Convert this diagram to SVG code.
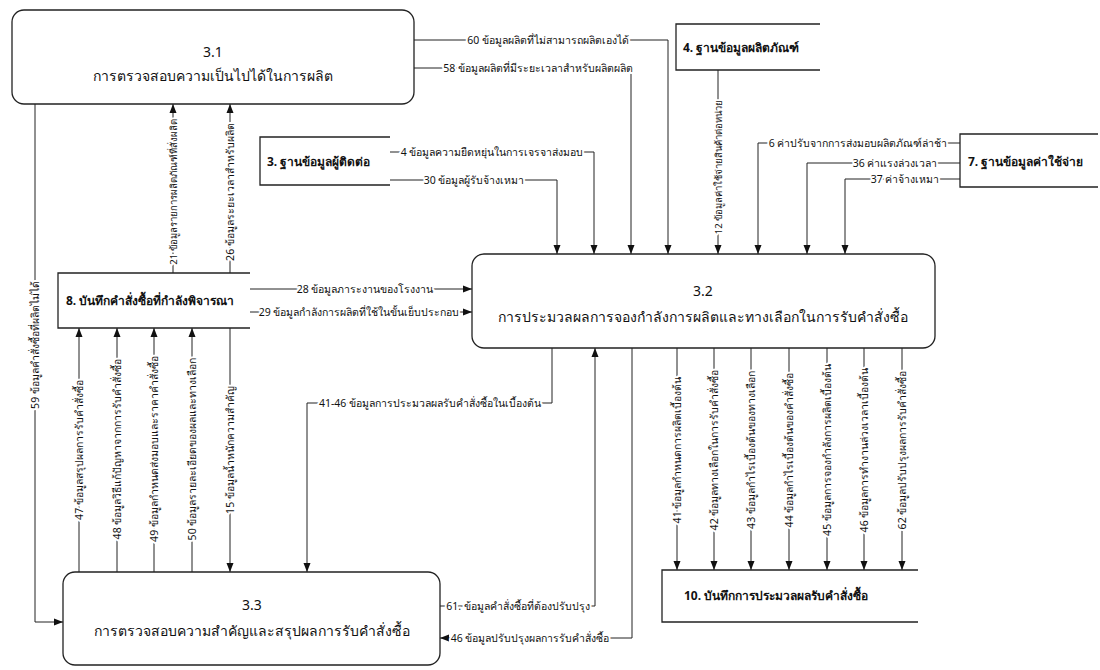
<svg xmlns="http://www.w3.org/2000/svg" width="1100" height="670" viewBox="0 0 1100 670">
<style>
text{font-family:"Noto Sans","DejaVu Sans",sans-serif;fill:#111}
.proc{fill:#fff;stroke:#222;stroke-width:1.3}
.store{fill:none;stroke:#222;stroke-width:1.3}
.pt{font-size:14px;text-anchor:middle}
.st{font-size:12px;font-weight:bold}
.fl{font-size:10.5px;text-anchor:middle;dominant-baseline:central;stroke:#fff;stroke-width:4px;paint-order:stroke;stroke-linejoin:round}
.sm{font-size:9.5px}
.ln{fill:none;stroke:#222;stroke-width:1}
</style>
<defs>
<marker id="ah" markerWidth="10" markerHeight="10" refX="9" refY="5" orient="auto" markerUnits="userSpaceOnUse">
<path d="M0,1.5 L9,5 L0,8.5 Z" fill="#111"/>
</marker>
</defs>
<rect width="1100" height="670" fill="#fff"/>
<g id="connectors">
<path class="ln" d="M35,104 V622 H63" marker-end="url(#ah)"/>
<path class="ln" d="M173,273 V104" marker-end="url(#ah)"/>
<path class="ln" d="M230,273 V104" marker-end="url(#ah)"/>
<path class="ln" d="M414,40 H668 V254" marker-end="url(#ah)"/>
<path class="ln" d="M414,68 H631 V254" marker-end="url(#ah)"/>
<path class="ln" d="M390,152 H594 V254" marker-end="url(#ah)"/>
<path class="ln" d="M390,180 H557 V254" marker-end="url(#ah)"/>
<path class="ln" d="M718,70 V254" marker-end="url(#ah)"/>
<path class="ln" d="M960,143 H758 V254" marker-end="url(#ah)"/>
<path class="ln" d="M960,163 H807 V254" marker-end="url(#ah)"/>
<path class="ln" d="M960,179 H845 V254" marker-end="url(#ah)"/>
<path class="ln" d="M250,289 H472" marker-end="url(#ah)"/>
<path class="ln" d="M250,312 H472" marker-end="url(#ah)"/>
<path class="ln" d="M552,348 V403 H307 V572" marker-end="url(#ah)"/>
<path class="ln" d="M440,606 H595 V348" marker-end="url(#ah)"/>
<path class="ln" d="M632,348 V638 H440" marker-end="url(#ah)"/>
<path class="ln" d="M79,572 V328" marker-end="url(#ah)"/>
<path class="ln" d="M117,572 V328" marker-end="url(#ah)"/>
<path class="ln" d="M154,572 V328" marker-end="url(#ah)"/>
<path class="ln" d="M192,572 V328" marker-end="url(#ah)"/>
<path class="ln" d="M230,328 V572" marker-end="url(#ah)"/>
<path class="ln" d="M677,348 V570" marker-end="url(#ah)"/>
<path class="ln" d="M714,348 V570" marker-end="url(#ah)"/>
<path class="ln" d="M751,348 V570" marker-end="url(#ah)"/>
<path class="ln" d="M789,348 V570" marker-end="url(#ah)"/>
<path class="ln" d="M827,348 V570" marker-end="url(#ah)"/>
<path class="ln" d="M864,348 V570" marker-end="url(#ah)"/>
<path class="ln" d="M902,348 V570" marker-end="url(#ah)"/>
<text class="fl" x="548" y="40">60 ข้อมูลผลิตที่ไม่สามารถผลิตเองได้</text>
<text class="fl" x="538" y="68">58 ข้อมูลผลิตที่มีระยะเวลาสำหรับผลิตผลิต</text>
<text class="fl" x="492" y="152">4 ข้อมูลความยืดหยุ่นในการเจรจาส่งมอบ</text>
<text class="fl" x="474" y="180">30 ข้อมูลผู้รับจ้างเหมา</text>
<text class="fl" x="858" y="143">6 ค่าปรับจากการส่งมอบผลิตภัณฑ์ล่าช้า</text>
<text class="fl" x="895" y="163">36 ค่าแรงล่วงเวลา</text>
<text class="fl" x="905" y="179">37 ค่าจ้างเหมา</text>
<text class="fl" x="365" y="289">28 ข้อมูลภาระงานของโรงงาน</text>
<text class="fl" x="359" y="312">29 ข้อมูลกำลังการผลิตที่ใช้ในขั้นเย็บประกอบ</text>
<text class="fl" x="430" y="403">41-46 ข้อมูลการประมวลผลรับคำสั่งซื้อในเบื้องต้น</text>
<text class="fl" x="518" y="606">61. ข้อมูลคำสั่งซื้อที่ต้องปรับปรุง</text>
<text class="fl" x="530" y="638">46 ข้อมูลปรับปรุงผลการรับคำสั่งซื้อ</text>
<text class="fl sm" transform="translate(718,167) rotate(-90)">12 ข้อมูลค่าใช้จ่ายสินค้าต่อหน่วย</text>
<text class="fl" transform="translate(35,345) rotate(-90)">59 ข้อมูลคำสั่งซื้อที่ผลิตไม่ได้</text>
<text class="fl sm" transform="translate(173,192) rotate(-90)">21 ข้อมูลรายการผลิตภัณฑ์ที่สั่งผลิต</text>
<text class="fl" transform="translate(230,192) rotate(-90)">26 ข้อมูลระยะเวลาสำหรับผลิต</text>
<text class="fl" transform="translate(79,450) rotate(-90)">47 ข้อมูลสรุปผลการรับคำสั่งซื้อ</text>
<text class="fl" transform="translate(117,449) rotate(-90)">48 ข้อมูลวิธีแก้ปัญหาจากการรับคำสั่งซื้อ</text>
<text class="fl" transform="translate(154,449) rotate(-90)">49 ข้อมูลกำหนดส่งมอบและราคาคำสั่งซื้อ</text>
<text class="fl" transform="translate(192,449) rotate(-90)">50 ข้อมูลรายละเอียดของผลและทางเลือก</text>
<text class="fl" transform="translate(230,450) rotate(-90)">15 ข้อมูลน้ำหนักความสำคัญ</text>
<text class="fl" transform="translate(677,450) rotate(-90)">41 ข้อมูลกำหนดการผลิตเบื้องต้น</text>
<text class="fl" transform="translate(714,450) rotate(-90)">42 ข้อมูลทางเลือกในการรับคำสั่งซื้อ</text>
<text class="fl" transform="translate(751,450) rotate(-90)">43 ข้อมูลกำไรเบื้องต้นของทางเลือก</text>
<text class="fl" transform="translate(789,450) rotate(-90)">44 ข้อมูลกำไรเบื้องต้นของคำสั่งซื้อ</text>
<text class="fl" transform="translate(827,450) rotate(-90)">45 ข้อมูลการจองกำลังการผลิตเบื้องต้น</text>
<text class="fl" transform="translate(864,450) rotate(-90)">46 ข้อมูลการทำงานล่วงเวลาเบื้องต้น</text>
<text class="fl" transform="translate(902,450) rotate(-90)">62 ข้อมูลปรับปรุงผลการรับคำสั่งซื้อ</text>
</g>
<g id="p31">
<rect class="proc" x="12" y="10" width="402" height="94" rx="12"/>
<text class="pt" x="213" y="57">3.1</text>
<text class="pt" x="213" y="81">การตรวจสอบความเป็นไปได้ในการผลิต</text>
</g>
<g id="p32">
<rect class="proc" x="472" y="254" width="463" height="94" rx="12"/>
<text class="pt" x="703" y="296">3.2</text>
<text class="pt" x="703" y="322">การประมวลผลการจองกำลังการผลิตและทางเลือกในการรับคำสั่งซื้อ</text>
</g>
<g id="p33">
<rect class="proc" x="63" y="572" width="377" height="93" rx="12"/>
<text class="pt" x="252" y="610">3.3</text>
<text class="pt" x="252" y="636">การตรวจสอบความสำคัญและสรุปผลการรับคำสั่งซื้อ</text>
</g>
<g id="d3">
<path class="store" d="M390,137 H260 V185 H390"/>
<text class="st" x="267" y="166">3. ฐานข้อมูลผู้ติดต่อ</text>
</g>
<g id="d4">
<path class="store" d="M820,24 H676 V70 H820"/>
<text class="st" x="683" y="52">4. ฐานข้อมูลผลิตภัณฑ์</text>
</g>
<g id="d7">
<path class="store" d="M1098,134 H960 V187 H1098"/>
<text class="st" x="968" y="166">7. ฐานข้อมูลค่าใช้จ่าย</text>
</g>
<g id="d8">
<path class="store" d="M250,273 H58 V328 H250"/>
<text class="st" x="66" y="305">8. บันทึกคำสั่งซื้อที่กำลังพิจารณา</text>
</g>
<g id="d10">
<path class="store" d="M918,570 H662 V622 H918"/>
<text class="st" x="684" y="600">10. บันทึกการประมวลผลรับคำสั่งซื้อ</text>
</g>
</svg>
